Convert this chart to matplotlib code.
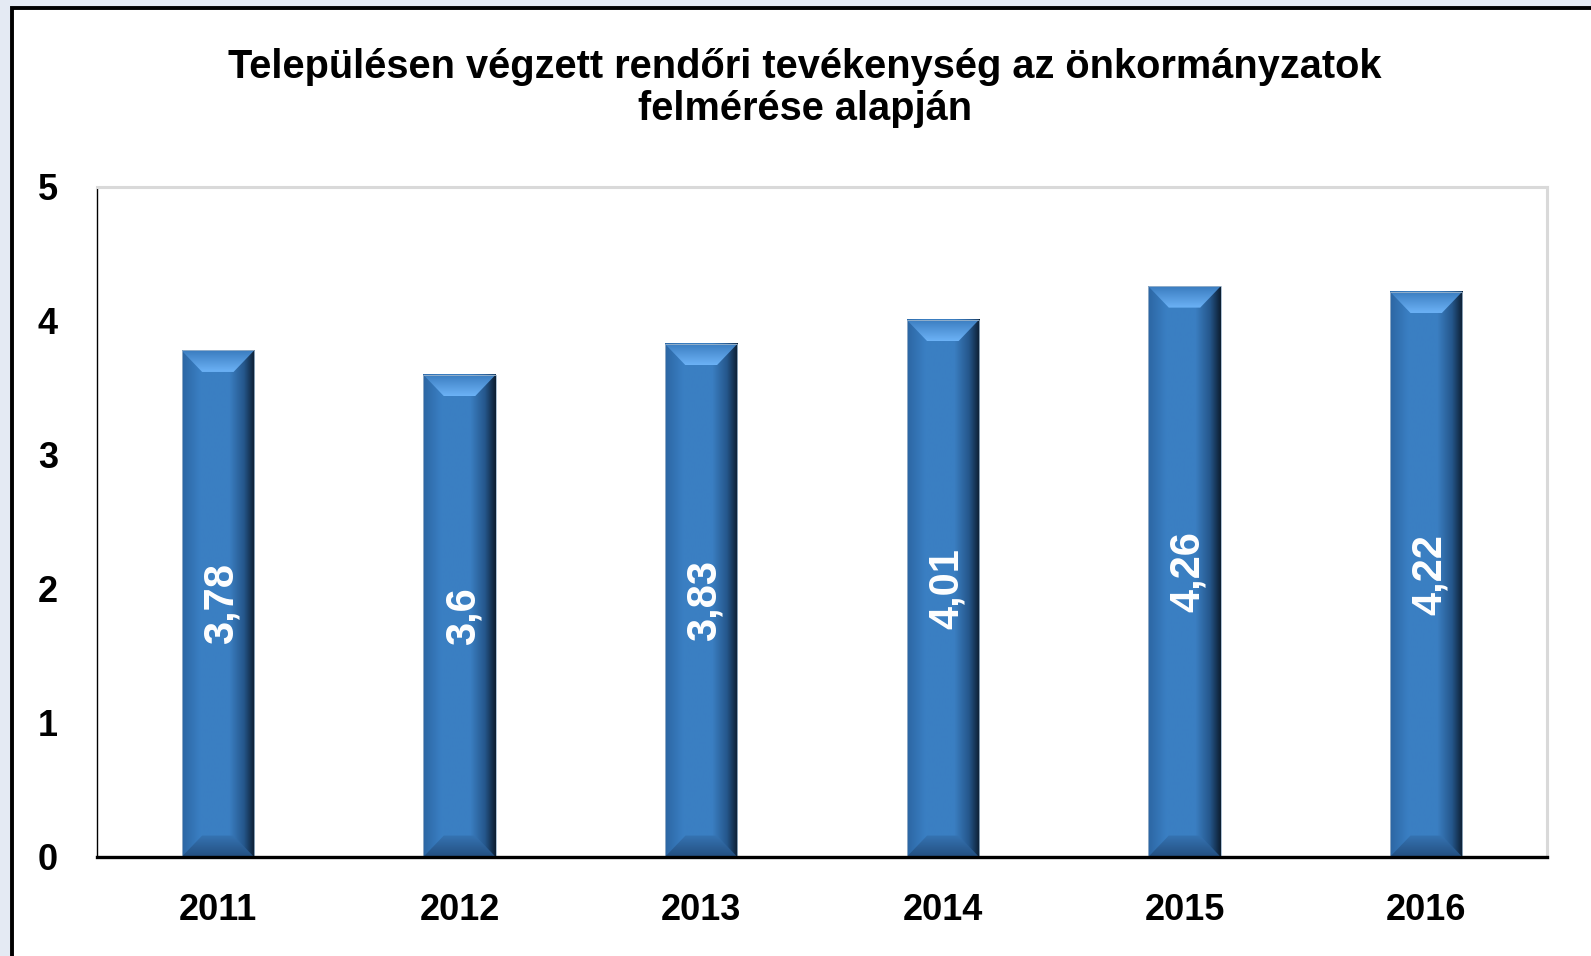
import numpy as np
import matplotlib
matplotlib.use("Agg")
import matplotlib.pyplot as plt
from matplotlib.colors import LinearSegmentedColormap
from matplotlib.patches import Rectangle, Polygon

plt.rcParams['font.family'] = ['Liberation Sans', 'DejaVu Sans']

years = ['2011', '2012', '2013', '2014', '2015', '2016']
values = [3.78, 3.6, 3.83, 4.01, 4.26, 4.22]
title = 'Településen végzett rendőri tevékenység az önkormányzatok\nfelmérése alapján'

W, H = 1591, 956
fig = plt.figure(figsize=(W / 100, H / 100), dpi=100)
fig.patch.set_facecolor('#e4eaf3')

# white panel with black frame
fig.patches.append(Rectangle((12 / W, -0.05), 1.1, (H - 8) / H + 0.05,
                             transform=fig.transFigure, facecolor='white',
                             edgecolor='black', linewidth=2.8, zorder=-10))

ax = fig.add_axes([97 / W, (H - 857) / H, (1547 - 97) / W, (857 - 187) / H])
ax.set_zorder(5)
ax.set_facecolor('white')

body = LinearSegmentedColormap.from_list('body', [
    (0.0, '#2c66a3'), (0.25, '#3a7fc3'), (0.65, '#3b7fc2'),
    (0.85, '#25578c'), (1.0, '#0c1d30')])
topc = LinearSegmentedColormap.from_list('top', ['#3a7cbf', '#6cb2f6'])
botc = LinearSegmentedColormap.from_list('bot', ['#234f80', '#3674b3'])

bw = 0.30
dx = 0.085
dy = 0.16
grad = np.linspace(0, 1, 256).reshape(1, -1)
vgrad = np.linspace(0, 1, 64).reshape(-1, 1)
for i, v in enumerate(values):
    x0, x1 = i - bw / 2, i + bw / 2
    ax.imshow(grad, cmap=body, extent=[x0, x1, 0, v], aspect='auto',
              origin='lower', zorder=2, interpolation='bilinear')
    # top bevel (center trapezoid)
    tp = Polygon([(x0, v), (x1, v), (x1 - dx, v - dy), (x0 + dx, v - dy)],
                 closed=True, facecolor='none', edgecolor='none')
    ax.add_patch(tp)
    im2 = ax.imshow(vgrad[::-1], cmap=topc, extent=[x0, x1, v - dy, v],
                    aspect='auto', origin='lower', zorder=3,
                    interpolation='bilinear')
    im2.set_clip_path(tp)
    # bottom bevel
    bp = Polygon([(x0, 0), (x1, 0), (x1 - dx, dy), (x0 + dx, dy)],
                 closed=True, facecolor='none', edgecolor='none')
    ax.add_patch(bp)
    im3 = ax.imshow(vgrad, cmap=botc, extent=[x0, x1, 0, dy],
                    aspect='auto', origin='lower', zorder=3,
                    interpolation='bilinear')
    im3.set_clip_path(bp)
    ax.add_patch(Rectangle((x0, 0), bw, v, facecolor='none',
                           edgecolor='#9fb6cc', linewidth=0.6, zorder=4))
    ax.text(i + 0.015, v / 2, str(v).replace('.', ','), rotation=90,
            color='white', fontsize=30, fontweight='bold', ha='center',
            va='center', zorder=5)

ax.set_xlim(-0.5, len(years) - 0.5)
ax.set_ylim(0, 5)
ax.set_xticks(range(len(years)))
ax.set_xticklabels(years, fontsize=26, fontweight='bold')
ax.set_yticks(range(6))
ax.set_yticklabels([str(t) for t in range(6)], fontsize=26, fontweight='bold')
ax.tick_params(axis='both', length=0)
ax.tick_params(axis='x', pad=26)
ax.tick_params(axis='y', pad=28)

for s in ['top', 'right']:
    ax.spines[s].set_color('#d9d9d9')
    ax.spines[s].set_linewidth(2.2)
ax.spines['left'].set_color('black')
ax.spines['left'].set_linewidth(1.0)
ax.spines['bottom'].set_color('black')
ax.spines['bottom'].set_linewidth(2.4)
ax.spines['bottom'].set_zorder(6)

fig.text(805 / W, (H - 88) / H, title, ha='center', va='center',
         fontsize=28.6, fontweight='bold', linespacing=1.1)

fig.savefig('out.png', dpi=100, facecolor=fig.get_facecolor())
